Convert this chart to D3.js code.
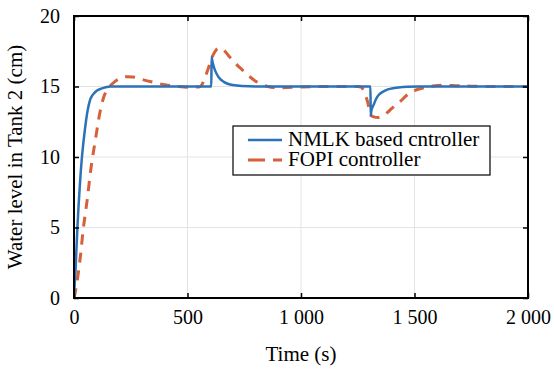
<!DOCTYPE html>
<html>
<head>
<meta charset="utf-8">
<script src="https://cdn.jsdelivr.net/npm/d3@7"></script>
<style>
  html, body { margin: 0; padding: 0; background: #fff; }
  svg { display: block; }
  svg text { font-family: "Liberation Serif", Times, "Times New Roman", "DejaVu Serif", serif !important; fill: #000; }
</style>
</head>
<body>
<svg id="chart" width="554" height="370"></svg>
<script>
// ---- data ----
const xTicks = [0, 500, 1000, 1500, 2000];
const xTickLabels = ["0", "500", "1 000", "1 500", "2 000"];
const yTicks = [0, 5, 10, 15, 20];
const yTickLabels = ["0", "5", "10", "15", "20"];

const seriesNames = ["NMLK based cntroller", "FOPI controller"];

const timeNMLK = [0, 3, 7, 10, 15, 20, 25, 30, 35, 40, 50, 60, 70, 80, 90, 100, 120, 140, 160, 200, 300, 400, 500, 605,
  606, 610, 620, 630, 640, 660, 680, 700, 740, 800, 1000, 1200, 1306,
  1307, 1310, 1320, 1330, 1345, 1360, 1380, 1400, 1430, 1470, 1520, 1700, 2000];
const levelNMLK = [0, 1.0, 2.0, 3.2, 5.0, 6.5, 7.8, 9.0, 10.0, 10.8, 12.2, 13.3, 14.0, 14.35, 14.55, 14.7, 14.85, 14.95, 15.0, 15.0, 15.0, 15.0, 15.0, 15.0,
  17.1, 16.75, 16.2, 15.85, 15.6, 15.33, 15.18, 15.1, 15.03, 15.0, 15.0, 15.0, 15.0,
  12.95, 13.3, 13.7, 14.1, 14.45, 14.62, 14.78, 14.86, 14.93, 14.98, 15.0, 15.0, 15.0];

const timeFOPI = [0, 10, 20, 30, 40, 50, 60, 70, 80, 90, 100, 110, 120, 130, 140, 160, 180, 200, 230, 260, 300, 350, 400, 450, 500, 550,
  560, 575, 590, 605, 620, 635, 650, 665, 680, 700, 720, 740, 760, 780, 800, 820, 850, 880, 920, 1000, 1100, 1250,
  1265, 1280, 1295, 1305, 1320, 1340, 1360, 1380, 1400, 1420, 1440, 1460, 1480, 1500, 1520, 1550, 1580, 1620, 1680, 1750, 1850, 2000];
const levelFOPI = [0, 0.8, 1.9, 3.2, 4.8, 6.0, 7.2, 8.6, 9.8, 10.8, 11.8, 12.8, 13.6, 14.2, 14.6, 15.05, 15.35, 15.55, 15.7, 15.68, 15.5, 15.3, 15.12, 15.02, 14.95, 14.97,
  15.05, 15.55, 16.2, 16.95, 17.45, 17.7, 17.7, 17.5, 17.2, 16.85, 16.5, 16.2, 15.9, 15.62, 15.38, 15.2, 15.02, 14.93, 14.92, 14.97, 15.0, 15.0,
  14.95, 14.55, 13.8, 13.0, 12.85, 12.8, 12.9, 13.15, 13.45, 13.72, 13.98, 14.3, 14.55, 14.7, 14.82, 14.95, 15.03, 15.08, 15.06, 15.02, 15.0, 15.0];

// ---- layout ----
const svg = d3.select("#chart");
const L = 74, R = 528, T = 16, B = 298;
const x = d3.scaleLinear().domain([0, 2000]).range([L, R]);
const y = d3.scaleLinear().domain([0, 20]).range([B, T]);
const blue = "#2b72b8", orange = "#d6603a";
const FONT = "'Liberation Serif', Times, 'Times New Roman', 'DejaVu Serif', serif";

// grid
svg.append("g").selectAll("line").data(xTicks.slice(1, -1)).join("line")
  .attr("x1", d => x(d)).attr("x2", d => x(d)).attr("y1", T).attr("y2", B)
  .attr("stroke", "#e3e3e3").attr("stroke-width", 1);
svg.append("g").selectAll("line").data(yTicks.slice(1, -1)).join("line")
  .attr("y1", d => y(d)).attr("y2", d => y(d)).attr("x1", L).attr("x2", R)
  .attr("stroke", "#e3e3e3").attr("stroke-width", 1);

// clip
svg.append("clipPath").attr("id", "clip").append("rect")
  .attr("x", L).attr("y", T).attr("width", R - L).attr("height", B - T);

const line = d3.line().x(d => x(d[0])).y(d => y(d[1])).curve(d3.curveMonotoneX);
const g = svg.append("g").attr("clip-path", "url(#clip)");
g.append("path").datum(timeFOPI.map((t, i) => [t, levelFOPI[i]]))
  .attr("d", line).attr("fill", "none").attr("stroke", orange)
  .attr("stroke-width", 3).attr("stroke-dasharray", "10,8");
g.append("path").datum(timeNMLK.map((t, i) => [t, levelNMLK[i]]))
  .attr("d", line).attr("fill", "none").attr("stroke", blue)
  .attr("stroke-width", 2.5);

// axes (ticks inside, mirrored)
const tickLen = 5;
const xAxisB = d3.axisBottom(x).tickValues(xTicks).tickSize(-tickLen).tickPadding(12)
  .tickFormat((d, i) => xTickLabels[i]);
const gx = svg.append("g").attr("transform", `translate(0,${B})`).call(xAxisB)
  .attr("font-family", FONT).attr("font-size", 20);
gx.select(".domain").remove();
gx.selectAll("line").attr("stroke", "#000").attr("stroke-width", 1.5);
gx.selectAll("text").attr("font-size", 20).style("font-family", FONT);

const xAxisT = d3.axisTop(x).tickValues(xTicks).tickSize(-tickLen).tickFormat("");
const gxt = svg.append("g").attr("transform", `translate(0,${T})`).call(xAxisT);
gxt.select(".domain").remove();
gxt.selectAll("line").attr("stroke", "#000").attr("stroke-width", 1.5);

const yAxisL = d3.axisLeft(y).tickValues(yTicks).tickSize(-tickLen).tickPadding(14)
  .tickFormat((d, i) => yTickLabels[i]);
const gy = svg.append("g").attr("transform", `translate(${L},0)`).call(yAxisL)
  .attr("font-family", FONT).attr("font-size", 20);
gy.select(".domain").remove();
gy.selectAll("line").attr("stroke", "#000").attr("stroke-width", 1.5);
gy.selectAll("text").attr("font-size", 20).style("font-family", FONT);

const yAxisR = d3.axisRight(y).tickValues(yTicks).tickSize(-tickLen).tickFormat("");
const gyr = svg.append("g").attr("transform", `translate(${R},0)`).call(yAxisR);
gyr.select(".domain").remove();
gyr.selectAll("line").attr("stroke", "#000").attr("stroke-width", 1.5);

// box
svg.append("rect").attr("x", L).attr("y", T).attr("width", R - L).attr("height", B - T)
  .attr("fill", "none").attr("stroke", "#000").attr("stroke-width", 2);

// axis labels
svg.append("text").attr("x", (L + R) / 2).attr("y", 361).attr("text-anchor", "middle")
  .attr("font-size", 21).style("font-family", FONT).text("Time (s)");
svg.append("text").attr("transform", `translate(22,${(T + B) / 2}) rotate(-90)`)
  .attr("text-anchor", "middle").attr("font-size", 21).style("font-family", FONT)
  .text("Water level in Tank 2 (cm)");

// legend
const lg = svg.append("g");
lg.append("rect").attr("x", 233).attr("y", 126).attr("width", 257).attr("height", 49)
  .attr("fill", "#fff").attr("stroke", "#000").attr("stroke-width", 1.2);
const legendColors = [blue, orange];
const legendDash = [null, "17,8"];
const legendWidth = [2.5, 3];
seriesNames.forEach((name, i) => {
  const cy = 140 + i * 20;
  lg.append("line").attr("x1", 248).attr("x2", 282).attr("y1", cy).attr("y2", cy)
    .attr("stroke", legendColors[i]).attr("stroke-width", legendWidth[i])
    .attr("stroke-dasharray", legendDash[i]);
  lg.append("text").attr("x", 288).attr("y", cy + 6).attr("font-size", 21)
    .style("font-family", FONT).text(name);
});
</script>
</body>
</html>
